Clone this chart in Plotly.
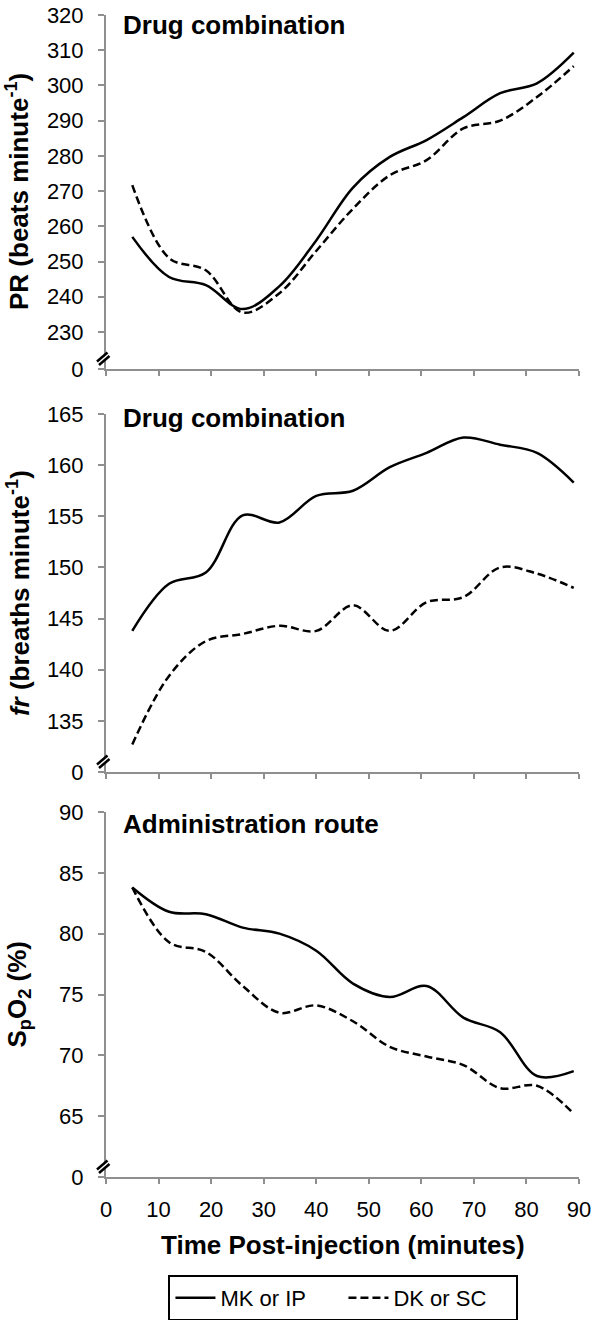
import plotly.graph_objects as go

# ---------------- data ----------------
time_min = [5, 12, 19, 26, 33, 40, 47, 54, 61, 68, 75, 82, 89]

pr_mk = [257, 245.6, 243.3, 236.5, 243, 256, 271, 279.7, 284.5, 291, 297.8, 300.6, 309.3]
pr_dk = [271.7, 251, 247.5, 235.5, 241, 253, 265, 274.5, 278.8, 287.8, 290, 296.7, 305.5]

fr_mk = [143.8, 148.4, 149.5, 155.1, 154.4, 157, 157.5, 159.8, 161.2, 162.7, 162, 161.2, 158.3]
fr_dk = [132.7, 139.4, 142.8, 143.5, 144.3, 143.8, 146.3, 143.8, 146.6, 147.1, 150, 149.4, 148]

spo2_mk = [83.8, 81.8, 81.6, 80.5, 80.0, 78.6, 75.9, 74.8, 75.7, 73.1, 71.9, 68.3, 68.7]
spo2_dk = [83.8, 79.3, 78.5, 75.7, 73.5, 74.1, 72.8, 70.7, 69.9, 69.2, 67.3, 67.5, 65.2]

series_names = ["MK or IP", "DK or SC"]

x_ticks = [0, 10, 20, 30, 40, 50, 60, 70, 80, 90]
pr_ticks = [219.5, 230, 240, 250, 260, 270, 280, 290, 300, 310, 320]
pr_ticktext = ["0", "230", "240", "250", "260", "270", "280", "290", "300", "310", "320"]
fr_ticks = [130, 135, 140, 145, 150, 155, 160, 165]
fr_ticktext = ["0", "135", "140", "145", "150", "155", "160", "165"]
sp_ticks = [60, 65, 70, 75, 80, 85, 90]
sp_ticktext = ["0", "65", "70", "75", "80", "85", "90"]

panel_titles = ["Drug combination", "Drug combination", "Administration route"]
y_titles = ["PR (beats minute<sup>-1</sup>)",
            "<i>fr</i> (breaths minute<sup>-1</sup>)",
            "S<sub>p</sub>O<sub>2</sub> (%)"]
x_title = "Time Post-injection (minutes)"

# ---------------- figure ----------------
FONT = "Liberation Sans, Arial, Helvetica, sans-serif"
AX = "#8f8f8f"
fig = go.Figure()

panels = [
    ("x", "y", pr_mk, pr_dk),
    ("x2", "y2", fr_mk, fr_dk),
    ("x3", "y3", spo2_mk, spo2_dk),
]
for i, (xa, ya, mk, dk) in enumerate(panels):
    show = (i == 2)
    fig.add_trace(go.Scatter(x=time_min, y=mk, mode="lines", name=series_names[0],
                             line=dict(color="black", width=2.5, shape="spline", smoothing=1.0),
                             xaxis=xa, yaxis=ya, showlegend=show))
    fig.add_trace(go.Scatter(x=time_min, y=dk, mode="lines", name=series_names[1],
                             line=dict(color="black", width=2.5, dash="8px,4px", shape="spline", smoothing=1.0),
                             xaxis=xa, yaxis=ya, showlegend=show))

common_x = dict(range=[0, 90], tickvals=x_ticks, showline=True, linecolor=AX, linewidth=2,
                ticks="outside", ticklen=5, tickwidth=2, tickcolor=AX, showgrid=False,
                zeroline=False, automargin=False, ticklabelstandoff=7,
                tickfont=dict(family=FONT, size=22, color="black"))
common_y = dict(showline=True, linecolor=AX, linewidth=2, ticks="outside", ticklen=6, tickwidth=2,
                tickcolor=AX, showgrid=False, zeroline=False, ticklabelstandoff=10, automargin=False,
                tickfont=dict(family=FONT, size=22, color="black"))

ydoms = [(0.6954, 1.0), (0.3485, 0.6566), (0.0, 0.3141)]

fig.update_layout(
    width=600, height=1320,
    margin=dict(l=106, r=21, t=15, b=143, autoexpand=False),
    plot_bgcolor="white", paper_bgcolor="white",
    font=dict(family=FONT, color="black"),
    xaxis=dict(common_x, anchor="y", domain=[0, 1], showticklabels=False),
    xaxis2=dict(common_x, anchor="y2", domain=[0, 1], showticklabels=False),
    xaxis3=dict(common_x, anchor="y3", domain=[0, 1], showticklabels=True),
    yaxis=dict(common_y, anchor="x", domain=list(ydoms[0]), range=[219.5, 320],
               tickvals=pr_ticks, ticktext=pr_ticktext),
    yaxis2=dict(common_y, anchor="x2", domain=list(ydoms[1]), range=[130, 165],
                tickvals=fr_ticks, ticktext=fr_ticktext),
    yaxis3=dict(common_y, anchor="x3", domain=list(ydoms[2]), range=[60, 90],
                tickvals=sp_ticks, ticktext=sp_ticktext),
    showlegend=True,
    legend=dict(orientation="h", x=0.502, xanchor="center", y=-0.0843, yanchor="top",
                bordercolor="black", borderwidth=2, font=dict(family=FONT, size=22, color="black"),
                entrywidth=118, entrywidthmode="pixels", itemwidth=40),
)

# panel titles
title_pos = [("x", "y", 317.2), ("x2", "y2", 164.6), ("x3", "y3", 89.0)]
for (xa, ya, yv), t in zip(title_pos, panel_titles):
    fig.add_annotation(x=2.85, y=yv, xref=xa, yref=ya, text="<b>%s</b>" % t, showarrow=False,
                       xanchor="left", yanchor="middle", font=dict(family=FONT, size=26, color="black"))

# y-axis titles
for (d0, d1), t in zip(ydoms, y_titles):
    fig.add_annotation(x=-0.186, y=(d0 + d1) / 2, xref="paper", yref="paper", text="<b>%s</b>" % t,
                       textangle=-90, showarrow=False, xanchor="center", yanchor="middle",
                       font=dict(family=FONT, size=26, color="black"))

# x-axis title
fig.add_annotation(x=0.502, y=-0.0585, xref="paper", yref="paper", text="<b>%s</b>" % x_title,
                   showarrow=False, xanchor="center", yanchor="middle",
                   font=dict(family=FONT, size=26, color="black"))

# axis break marks (paper-referenced so they are not clipped by the plot area)
for d0, _ in ydoms:
    base = dict(xref="paper", yref="paper", xsizemode="pixel", ysizemode="pixel",
                xanchor=0, yanchor=d0, layer="above")
    fig.add_shape(type="line", x0=-8, y0=6, x1=2, y1=15, line=dict(color="white", width=4), **base)
    fig.add_shape(type="line", x0=-9, y0=7.5, x1=1.5, y1=16.5, line=dict(color="black", width=2.5), **base)
    fig.add_shape(type="line", x0=-7, y0=4, x1=3.5, y1=13, line=dict(color="black", width=2.5), **base)

fig.write_html("out.html", config={"displayModeBar": False},
               post_script="document.body.style.margin='0';")
